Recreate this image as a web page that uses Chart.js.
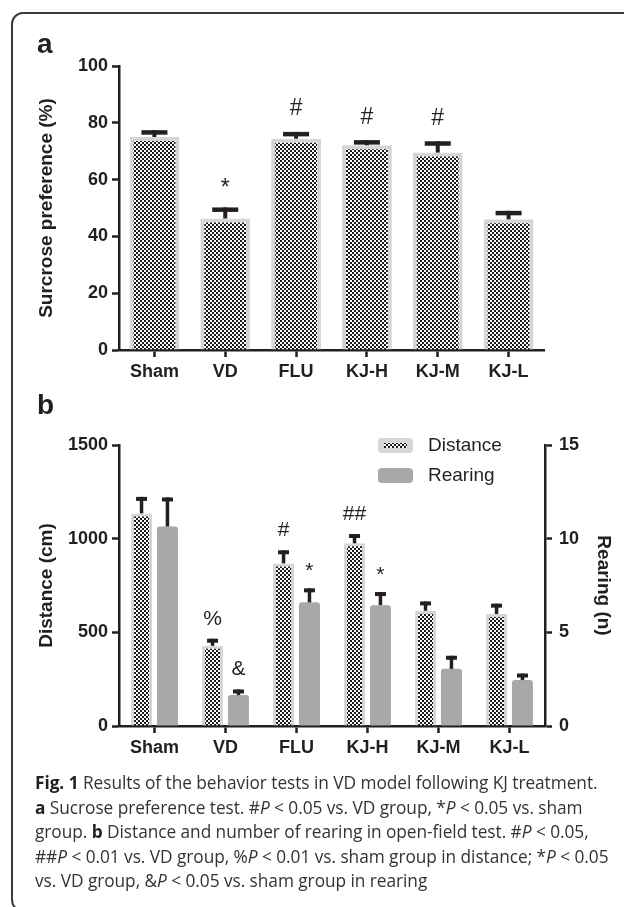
<!DOCTYPE html>
<html>
<head>
<meta charset="utf-8">
<script src="https://cdn.jsdelivr.net/npm/chart.js@4.4.1/dist/chart.umd.min.js"></script>
<style>
  html, body { margin: 0; padding: 0; background: #fff; }
  body { width: 624px; height: 907px; overflow: hidden; position: relative; font-family: "Liberation Sans", Arial, sans-serif; }
  .frame { position: absolute; left: 11px; top: 12px; width: 700px; height: 896px; border: 2px solid #3a3a3a; border-radius: 12px; }
  .panel { position: absolute; left: 0; width: 624px; height: 390px; }
  #chartA { top: 0; }
  #chartB { top: 390px; }
  .tag { position: absolute; left: 37px; font: bold 28px "Liberation Sans", Arial, sans-serif; color: #231f20; }
  .caption { position: absolute; left: 35px; top: 771px; font-family: "Open Sans", sans-serif; font-size: 17.3px; letter-spacing: -0.05px; line-height: 24.5px; color: #333; white-space: nowrap; }
  .caption b { font-weight: bold; color: #231f20; }
</style>
</head>
<body>
<div class="frame"></div>
<canvas id="chartA" class="panel" width="624" height="390"></canvas>
<canvas id="chartB" class="panel" width="624" height="390"></canvas>
<div class="tag" style="top:28px">a</div>
<div class="tag" style="top:389px">b</div>
<div class="caption">
<b>Fig. 1</b> Results of the behavior tests in VD model following KJ treatment.<br>
<b>a</b> Sucrose preference test. #<i>P</i> &lt; 0.05 vs. VD group, *<i>P</i> &lt; 0.05 vs. sham<br>
group. <b>b</b> Distance and number of rearing in open-field test. #<i>P</i> &lt; 0.05,<br>
##<i>P</i> &lt; 0.01 vs. VD group, %<i>P</i> &lt; 0.01 vs. sham group in distance; *<i>P</i> &lt; 0.05<br>
vs. VD group, &amp;<i>P</i> &lt; 0.05 vs. sham group in rearing
</div>
<script>
// groups on the x axis
const groups = ['Sham', 'VD', 'FLU', 'KJ-H', 'KJ-M', 'KJ-L'];

// panel a: sucrose preference (%)
const sucrose = [75.0, 46.3, 74.4, 72.1, 69.5, 46.0];
const sucroseSem = [2.4, 3.9, 2.4, 1.8, 4.0, 3.0];
const sucroseMarks = ['', '*', '#', '#', '#', ''];
const sucroseTicks = [0, 20, 40, 60, 80, 100];

// panel b: open field
const distance = [1135, 428, 868, 975, 615, 598];
const distanceSem = [88, 38, 70, 50, 50, 55];
const distanceMarks = ['', '%', '#', '##', '', ''];
const rearing = [10.65, 1.65, 6.6, 6.45, 3.05, 2.45];
const rearingSem = [1.55, 0.3, 0.75, 0.7, 0.7, 0.35];
const rearingMarks = ['', '&', '*', '*', '', ''];
const distanceTicks = [0, 500, 1000, 1500];
const rearingTicks = [0, 5, 10, 15];

const ink = '#231f20';
const rim = '#d6d6d6';
const greyBar = '#a7a8aa';
const axisFont = { family: '"Liberation Sans", Arial, sans-serif', size: 18, weight: 'bold' };
const titleFont = { family: '"Liberation Sans", Arial, sans-serif', size: 19, weight: 'bold' };

const checker = (ctx) => {
  const c = document.createElement('canvas');
  c.width = 4; c.height = 4;
  const g = c.getContext('2d');
  g.fillStyle = '#ffffff';
  g.fillRect(0, 0, 4, 4);
  g.fillStyle = '#1a1a1a';
  g.fillRect(0, 0, 2, 2);
  g.fillRect(2, 2, 2, 2);
  return ctx.createPattern(c, 'repeat');
};

// error bars (upper half only) and significance marks
const errorBars = {
  id: 'errorBars',
  afterDatasetsDraw(chart, args, opts) {
    const ctx = chart.ctx;
    chart.data.datasets.forEach((ds, i) => {
      const meta = chart.getDatasetMeta(i);
      const scale = chart.scales[meta.yAxisID];
      meta.data.forEach((bar, j) => {
        const top = scale.getPixelForValue(ds.data[j] + ds.sem[j]);
        ctx.save();
        ctx.strokeStyle = ink;
        ctx.lineWidth = opts.stem;
        ctx.beginPath();
        ctx.moveTo(bar.x, bar.y);
        ctx.lineTo(bar.x, top);
        ctx.stroke();
        ctx.lineWidth = opts.capThick;
        ctx.beginPath();
        ctx.moveTo(bar.x - opts.cap / 2, top + opts.capThick / 2);
        ctx.lineTo(bar.x + opts.cap / 2, top + opts.capThick / 2);
        ctx.stroke();
        const mark = ds.marks[j];
        if (mark) {
          ctx.font = opts.markSize + 'px "Liberation Sans", Arial, sans-serif';
          ctx.fillStyle = ink;
          ctx.textAlign = 'center';
          ctx.textBaseline = 'alphabetic';
          const m = ctx.measureText(mark);
          const cy = top - opts.gap;
          ctx.fillText(mark, bar.x, cy + (m.actualBoundingBoxAscent - m.actualBoundingBoxDescent) / 2);
        }
        ctx.restore();
      });
    });
  }
};

// legend for panel b, drawn inside the plot
const boxLegend = {
  id: 'boxLegend',
  afterDraw(chart) {
    const ctx = chart.ctx;
    const area = chart.chartArea;
    const x = area.right - 167;
    chart.data.datasets.forEach((ds, i) => {
      const y = area.top - 7 + i * 30;
      ctx.save();
      ctx.beginPath();
      ctx.roundRect(x, y, 35, 15, 4);
      ctx.fillStyle = i === 0 ? rim : greyBar;
      ctx.fill();
      if (i === 0) {
        ctx.fillStyle = ds.backgroundColor;
        ctx.fillRect(x + 6, y + 5, 23, 5);
      }
      ctx.font = '19px "Liberation Sans", Arial, sans-serif';
      ctx.fillStyle = ink;
      ctx.textAlign = 'left';
      ctx.textBaseline = 'middle';
      ctx.fillText(ds.label, x + 50, y + 8);
      ctx.restore();
    });
  }
};

const axisGrid = { display: true, drawOnChartArea: false, drawTicks: true, tickLength: 7, tickWidth: 2.5, color: ink };
const axisBorder = { display: true, width: 2.5, color: ink };

const xAxis = (h) => ({
  type: 'category',
  grid: { ...axisGrid, offset: false },
  border: axisBorder,
  ticks: { color: ink, font: axisFont, padding: 4, maxRotation: 0, autoSkip: false },
  afterFit: s => { s.height = h; }
});

const yAxis = (pos, ticks, titleText, w, titlePad) => ({
  type: 'linear',
  position: pos,
  min: ticks[0],
  max: ticks[ticks.length - 1],
  afterBuildTicks: s => { s.ticks = ticks.map(v => ({ value: v })); },
  grid: axisGrid,
  border: axisBorder,
  ticks: { color: ink, font: axisFont, padding: pos === 'left' ? 4 : 7, callback: v => String(v) },
  title: { display: true, text: titleText, color: ink, font: titleFont, padding: { top: titlePad, bottom: 0 } },
  afterFit: s => { s.width = w; }
});

const ctxA = document.getElementById('chartA').getContext('2d');
const ctxB = document.getElementById('chartB').getContext('2d');

new Chart(ctxA, {
  type: 'bar',
  data: {
    labels: groups,
    datasets: [{
      label: 'Sucrose preference',
      data: sucrose,
      sem: sucroseSem,
      marks: sucroseMarks,
      backgroundColor: checker(ctxA),
      borderColor: rim,
      borderWidth: 4,
      borderSkipped: 'start',
      categoryPercentage: 0.8,
      barPercentage: 0.88
    }]
  },
  options: {
    responsive: false,
    animation: false,
    layout: { padding: { top: 66, right: 80, left: 0, bottom: 0 } },
    plugins: {
      legend: { display: false },
      tooltip: { enabled: false },
      errorBars: { stem: 4, cap: 26, capThick: 4.5, gap: 25, markSize: 23 }
    },
    scales: {
      x: xAxis(40),
      y: yAxis('left', sucroseTicks, 'Surcrose preference (%)', 119, 35)
    }
  },
  plugins: [errorBars]
});

new Chart(ctxB, {
  type: 'bar',
  data: {
    labels: groups,
    datasets: [{
      label: 'Distance',
      data: distance,
      sem: distanceSem,
      marks: distanceMarks,
      yAxisID: 'y',
      backgroundColor: checker(ctxB),
      borderColor: rim,
      borderWidth: 3,
      borderSkipped: 'start',
      categoryPercentage: 0.73,
      barPercentage: 0.81
    }, {
      label: 'Rearing',
      data: rearing,
      sem: rearingSem,
      marks: rearingMarks,
      yAxisID: 'y1',
      backgroundColor: greyBar,
      borderWidth: 0,
      borderRadius: { topLeft: 3, topRight: 3 },
      borderSkipped: 'start',
      categoryPercentage: 0.73,
      barPercentage: 0.81
    }]
  },
  options: {
    responsive: false,
    animation: false,
    layout: { padding: { top: 55, right: 0, left: 0, bottom: 0 } },
    plugins: {
      legend: { display: false },
      tooltip: { enabled: false },
      errorBars: { stem: 3.5, cap: 11, capThick: 4, gap: 21, markSize: 21 }
    },
    scales: {
      x: xAxis(54),
      y: yAxis('left', distanceTicks, 'Distance (cm)', 119, 35),
      y1: yAxis('right', rearingTicks, 'Rearing (n)', 79, 9)
    }
  },
  plugins: [errorBars, boxLegend]
});
</script>
</body>
</html>
